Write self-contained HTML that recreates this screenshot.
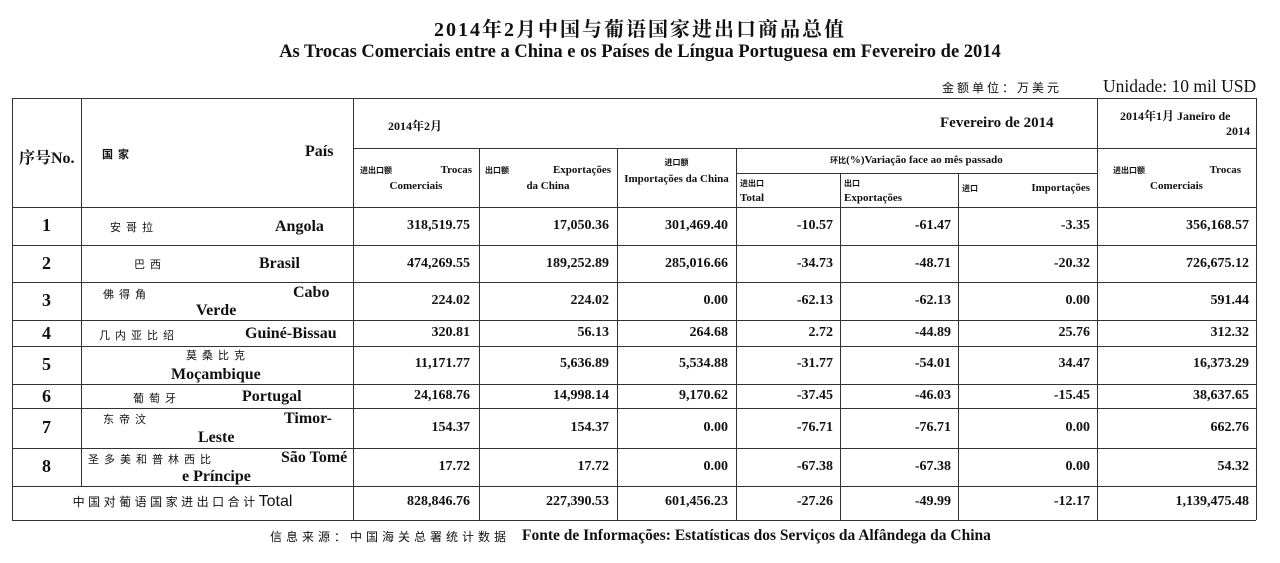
<!DOCTYPE html>
<html><head><meta charset="utf-8"><style>
body{margin:0;width:1280px;height:563px;background:#fff;position:relative;overflow:hidden;font-family:"Liberation Serif","Noto Serif CJK SC",serif;color:#111}
.a{position:absolute;white-space:nowrap}
.h{position:absolute;height:0;border-top:1.5px solid #333}
.v{position:absolute;width:0;border-left:1.5px solid #333}
.b{font-weight:bold}
.cj{font-family:"Noto Sans CJK SC",sans-serif;font-size:10px}
.k{font-family:"Noto Sans CJK SC",sans-serif;font-size:11px;letter-spacing:5px}
.n{font-weight:bold;font-size:14px;text-align:right}
.c{text-align:center}
.r1{left:353px;width:117px}.r2{left:479px;width:130px}.r3{left:617px;width:111px}.r4{left:736px;width:97px}.r5{left:840px;width:111px}.r6{left:958px;width:132px}.r7{left:1097px;width:152px}
</style></head><body>
<div class="a b c" style="left:0;width:1280px;top:13px;font-size:20px;letter-spacing:2px">2014年2月中国与葡语国家进出口商品总值</div>
<div class="a b c" style="left:0;width:1280px;top:42px;font-size:18.5px">As Trocas Comerciais entre a China e os Países de Língua Portuguesa em Fevereiro de 2014</div>
<div class="a" style="left:942px;top:79px;font-size:12px;letter-spacing:3px;font-family:'Noto Sans CJK SC',sans-serif">金额单位：万美元</div>
<div class="a" style="left:1103px;top:76px;font-size:17.5px">Unidade: 10 mil USD</div>

<div class="h" style="left:12px;width:1244px;top:98px"></div>
<div class="h" style="left:353px;width:903px;top:148px"></div>
<div class="h" style="left:736px;width:361px;top:173px"></div>
<div class="h" style="left:12px;width:1244px;top:207px"></div>
<div class="h" style="left:12px;width:1244px;top:245px"></div>
<div class="h" style="left:12px;width:1244px;top:282px"></div>
<div class="h" style="left:12px;width:1244px;top:320px"></div>
<div class="h" style="left:12px;width:1244px;top:346px"></div>
<div class="h" style="left:12px;width:1244px;top:384px"></div>
<div class="h" style="left:12px;width:1244px;top:408px"></div>
<div class="h" style="left:12px;width:1244px;top:448px"></div>
<div class="h" style="left:12px;width:1244px;top:486px"></div>
<div class="h" style="left:12px;width:1244px;top:520px"></div>
<div class="v" style="left:12px;top:98px;height:422px"></div>
<div class="v" style="left:81px;top:98px;height:388px"></div>
<div class="v" style="left:353px;top:98px;height:422px"></div>
<div class="v" style="left:479px;top:148px;height:372px"></div>
<div class="v" style="left:617px;top:148px;height:372px"></div>
<div class="v" style="left:736px;top:148px;height:372px"></div>
<div class="v" style="left:840px;top:173px;height:347px"></div>
<div class="v" style="left:958px;top:173px;height:347px"></div>
<div class="v" style="left:1097px;top:98px;height:422px"></div>
<div class="v" style="left:1256px;top:98px;height:422px"></div>

<div class="a b" style="left:19px;top:145px;font-size:16px">序号No.</div>
<div class="a b k" style="left:102px;top:146px">国家</div>
<div class="a b" style="left:305px;top:143px;font-size:16px">País</div>
<div class="a b" style="left:388px;top:117px;font-size:12px">2014年2月</div>
<div class="a b" style="left:940px;top:115px;font-size:15px">Fevereiro de 2014</div>
<div class="a b" style="left:1120px;top:107px;font-size:12px">2014年1月 Janeiro de</div>
<div class="a b" style="left:1226px;top:124px;font-size:12px">2014</div>
<div class="a b" style="left:360px;top:164px;font-size:11px;width:112px"><span class="cj" style="font-size:8px">进出口额</span><span style="float:right">Trocas</span></div>
<div class="a b c" style="left:353px;width:126px;top:180px;font-size:11px">Comerciais</div>
<div class="a b" style="left:485px;top:164px;font-size:11px;width:126px"><span class="cj" style="font-size:8px">出口额</span><span style="float:right">Exportações</span></div>
<div class="a b c" style="left:479px;width:138px;top:180px;font-size:11px">da China</div>
<div class="a b c cj" style="left:617px;width:119px;top:157px;font-size:8px">进口额</div>
<div class="a b c" style="left:617px;width:119px;top:172px;font-size:11px;line-height:15px;white-space:normal">Importações da China</div>
<div class="a b c" style="left:736px;width:361px;top:154px;font-size:11px"><span class="cj" style="font-size:8px">环比</span>(%)Variação face ao mês passado</div>
<div class="a b" style="left:740px;top:176px;font-size:11px;line-height:14px"><span class="cj" style="font-size:8px">进出口</span><br>Total</div>
<div class="a b" style="left:844px;top:176px;font-size:11px;line-height:14px"><span class="cj" style="font-size:8px">出口</span><br>Exportações</div>
<div class="a b" style="left:962px;top:182px;font-size:11px;width:128px"><span class="cj" style="font-size:8px">进口</span><span style="float:right">Importações</span></div>
<div class="a b" style="left:1113px;top:164px;font-size:11px;width:128px"><span class="cj" style="font-size:8px">进出口额</span><span style="float:right">Trocas</span></div>
<div class="a b c" style="left:1097px;width:159px;top:180px;font-size:11px">Comerciais</div>

<div class="a b c" style="left:12px;width:69px;top:215px;font-size:18px">1</div>
<div class="a b c" style="left:12px;width:69px;top:253px;font-size:18px">2</div>
<div class="a b c" style="left:12px;width:69px;top:290px;font-size:18px">3</div>
<div class="a b c" style="left:12px;width:69px;top:323px;font-size:18px">4</div>
<div class="a b c" style="left:12px;width:69px;top:354px;font-size:18px">5</div>
<div class="a b c" style="left:12px;width:69px;top:386px;font-size:18px">6</div>
<div class="a b c" style="left:12px;width:69px;top:417px;font-size:18px">7</div>
<div class="a b c" style="left:12px;width:69px;top:456px;font-size:18px">8</div>

<div class="a k" style="left:110px;top:219px">安哥拉</div><div class="a b" style="left:275px;top:218px;font-size:16px">Angola</div>
<div class="a k" style="left:134px;top:256px">巴西</div><div class="a b" style="left:259px;top:255px;font-size:16px">Brasil</div>
<div class="a k" style="left:103px;top:286px">佛得角</div><div class="a b" style="left:293px;top:284px;font-size:16px">Cabo</div><div class="a b" style="left:196px;top:302px;font-size:16px">Verde</div>
<div class="a k" style="left:99px;top:327px">几内亚比绍</div><div class="a b" style="left:245px;top:325px;font-size:16px">Guiné-Bissau</div>
<div class="a k" style="left:186px;top:347px">莫桑比克</div><div class="a b" style="left:171px;top:366px;font-size:16px">Moçambique</div>
<div class="a k" style="left:133px;top:390px">葡萄牙</div><div class="a b" style="left:242px;top:388px;font-size:16px">Portugal</div>
<div class="a k" style="left:103px;top:411px">东帝汶</div><div class="a b" style="left:284px;top:410px;font-size:16px">Timor-</div><div class="a b" style="left:198px;top:429px;font-size:16px">Leste</div>
<div class="a k" style="left:88px;top:451px">圣多美和普林西比</div><div class="a b" style="left:281px;top:449px;font-size:16px">São Tomé</div><div class="a b" style="left:182px;top:468px;font-size:16px">e Príncipe</div>
<div class="a c" style="left:12px;width:341px;top:493px;font-size:16px;font-family:'Liberation Sans','Noto Sans CJK SC',sans-serif"><span style="font-size:12px;letter-spacing:3.5px">中国对葡语国家进出口合计</span>Total</div>

<div class="a n r1" style="top:218px">318,519.75</div><div class="a n r2" style="top:218px">17,050.36</div><div class="a n r3" style="top:218px">301,469.40</div><div class="a n r4" style="top:218px">-10.57</div><div class="a n r5" style="top:218px">-61.47</div><div class="a n r6" style="top:218px">-3.35</div><div class="a n r7" style="top:218px">356,168.57</div>
<div class="a n r1" style="top:256px">474,269.55</div><div class="a n r2" style="top:256px">189,252.89</div><div class="a n r3" style="top:256px">285,016.66</div><div class="a n r4" style="top:256px">-34.73</div><div class="a n r5" style="top:256px">-48.71</div><div class="a n r6" style="top:256px">-20.32</div><div class="a n r7" style="top:256px">726,675.12</div>
<div class="a n r1" style="top:293px">224.02</div><div class="a n r2" style="top:293px">224.02</div><div class="a n r3" style="top:293px">0.00</div><div class="a n r4" style="top:293px">-62.13</div><div class="a n r5" style="top:293px">-62.13</div><div class="a n r6" style="top:293px">0.00</div><div class="a n r7" style="top:293px">591.44</div>
<div class="a n r1" style="top:325px">320.81</div><div class="a n r2" style="top:325px">56.13</div><div class="a n r3" style="top:325px">264.68</div><div class="a n r4" style="top:325px">2.72</div><div class="a n r5" style="top:325px">-44.89</div><div class="a n r6" style="top:325px">25.76</div><div class="a n r7" style="top:325px">312.32</div>
<div class="a n r1" style="top:356px">11,171.77</div><div class="a n r2" style="top:356px">5,636.89</div><div class="a n r3" style="top:356px">5,534.88</div><div class="a n r4" style="top:356px">-31.77</div><div class="a n r5" style="top:356px">-54.01</div><div class="a n r6" style="top:356px">34.47</div><div class="a n r7" style="top:356px">16,373.29</div>
<div class="a n r1" style="top:388px">24,168.76</div><div class="a n r2" style="top:388px">14,998.14</div><div class="a n r3" style="top:388px">9,170.62</div><div class="a n r4" style="top:388px">-37.45</div><div class="a n r5" style="top:388px">-46.03</div><div class="a n r6" style="top:388px">-15.45</div><div class="a n r7" style="top:388px">38,637.65</div>
<div class="a n r1" style="top:420px">154.37</div><div class="a n r2" style="top:420px">154.37</div><div class="a n r3" style="top:420px">0.00</div><div class="a n r4" style="top:420px">-76.71</div><div class="a n r5" style="top:420px">-76.71</div><div class="a n r6" style="top:420px">0.00</div><div class="a n r7" style="top:420px">662.76</div>
<div class="a n r1" style="top:459px">17.72</div><div class="a n r2" style="top:459px">17.72</div><div class="a n r3" style="top:459px">0.00</div><div class="a n r4" style="top:459px">-67.38</div><div class="a n r5" style="top:459px">-67.38</div><div class="a n r6" style="top:459px">0.00</div><div class="a n r7" style="top:459px">54.32</div>
<div class="a n r1" style="top:494px">828,846.76</div><div class="a n r2" style="top:494px">227,390.53</div><div class="a n r3" style="top:494px">601,456.23</div><div class="a n r4" style="top:494px">-27.26</div><div class="a n r5" style="top:494px">-49.99</div><div class="a n r6" style="top:494px">-12.17</div><div class="a n r7" style="top:494px">1,139,475.48</div>

<div class="a" style="left:270px;top:528px;font-size:12px;letter-spacing:4px;font-family:'Noto Sans CJK SC',sans-serif">信息来源：中国海关总署统计数据</div>
<div class="a b" style="left:522px;top:527px;font-size:15.5px">Fonte de Informações: Estatísticas dos Serviços da Alfândega da China</div>
</body></html>
